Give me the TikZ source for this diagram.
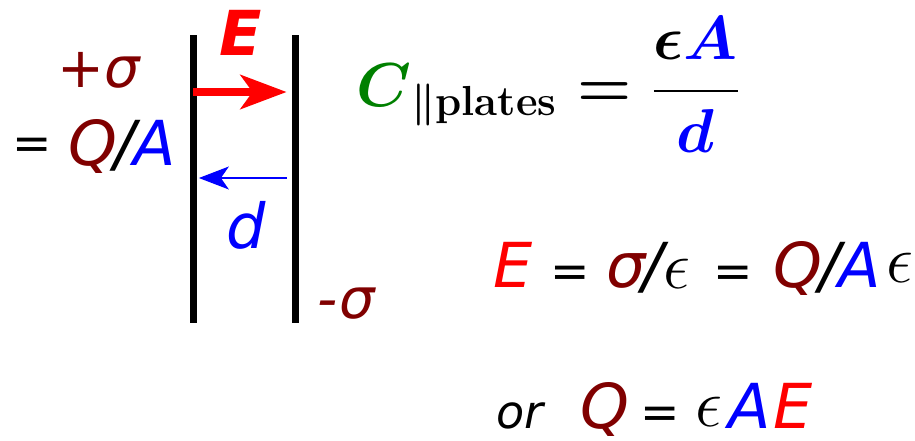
\RequirePackage{fix-cm}
\documentclass[tikz,border=0pt]{standalone}
\usepackage{amsmath}
\usepackage{fontspec}
\newfontfamily\dejavu{DejaVu Sans}
\usetikzlibrary{arrows.meta}
\definecolor{maroon}{RGB}{128,0,0}
\definecolor{capgreen}{RGB}{0,128,0}

\begin{document}
\begin{tikzpicture}[
  x=0.5pt, y=-0.5pt,
  plate/.style={
    fill=black,
    inner sep=0pt,
    minimum width=3.5pt,
    minimum height=144pt
  },
  field arrow/.style={
    red,
    line width=4pt,
    -{Stealth[length=23pt,width=17pt,inset=6pt]}
  },
  gap arrow/.style={
    blue,
    line width=0.6pt,
    -{Stealth[length=15pt,width=11.5pt,inset=4pt]}
  },
  lbl/.style={
    inner sep=0pt,
    anchor=base west,
    font=\dejavu\itshape\fontsize{31}{36}\selectfont
  },
  small lbl/.style={
    lbl,
    font=\dejavu\itshape\fontsize{#1}{28}\selectfont
  },
  eq sign/.style={
    lbl,
    font=\dejavu\fontsize{23.5}{28}\selectfont
  },
  eps/.style={
    inner sep=0pt,
    anchor=base west,
    font=\fontsize{34}{36}\selectfont
  },
]
\useasboundingbox (0,0) rectangle (915,440);
% the two plates
\node[plate] (lp) at (193,179) {};
\node[plate] (rp) at (295.5,179) {};
% field and gap
\draw[field arrow, shorten >=2.5pt] (lp.center |- 0,92) -- (rp.west |- 0,92);
\draw[gap arrow, shorten <=2.5pt, shorten >=1pt] (rp.west |- 0,178) -- (lp.east |- 0,178);
% labels round the plates
\node[lbl, font=\dejavu\bfseries\itshape\fontsize{31}{36}\selectfont, red] (elbl) at (219,55) {E};
\node[small lbl=28, maroon] (psig) at (57,87) {+σ};
\node[eq sign] (eq1) at (12,159) {=};
\node[lbl] (qa1) at (68,165) {\textcolor{maroon}{Q}\kern-1.5pt/\kern-1pt\textcolor{blue}{A}};
\node[lbl, blue] (dlbl) at (226,248) {d};
\node[small lbl=28, maroon] (msig) at (317,318) {-\kern1pt σ};
% capacitance
\node[inner sep=0pt, anchor=base west, font=\fontsize{31}{36}\selectfont\boldmath] (cpar) at (356,106)
  {$\textcolor{capgreen}{C}_{\mbox{\fontsize{21}{21}\selectfont$\|$\textbf{plates}}} = \dfrac{\epsilon\textcolor{blue}{A}}{\textcolor{blue}{d}}$};
% field between the plates
\node[lbl, red] (e2) at (493,287) {E};
\node[eq sign] (eq2) at (550,287) {=};
\node[lbl] (sig2) at (606,287) {\textcolor{maroon}{σ}\kern-1.5pt/};
\node[eps] (eps1) at (663,288) {$\epsilon$};
\node[eq sign] (eq3) at (713,287) {=};
\node[lbl] (qa2) at (773,287) {\textcolor{maroon}{Q}\kern-1.5pt/\kern-1pt\textcolor{blue}{A}};
\node[eps] (eps2) at (886,282) {$\epsilon$};
% charge
\node[small lbl=23] (orw) at (496,428) {or};
\node[lbl, maroon] (q3) at (580,428) {Q};
\node[eq sign] (eq4) at (640,428) {=};
\node[eps] (eps3) at (695,426) {$\epsilon$};
\node[lbl] (ae) at (728,428) {\textcolor{blue}{A}\kern1.5pt\textcolor{red}{E}};
\end{tikzpicture}
\end{document}
